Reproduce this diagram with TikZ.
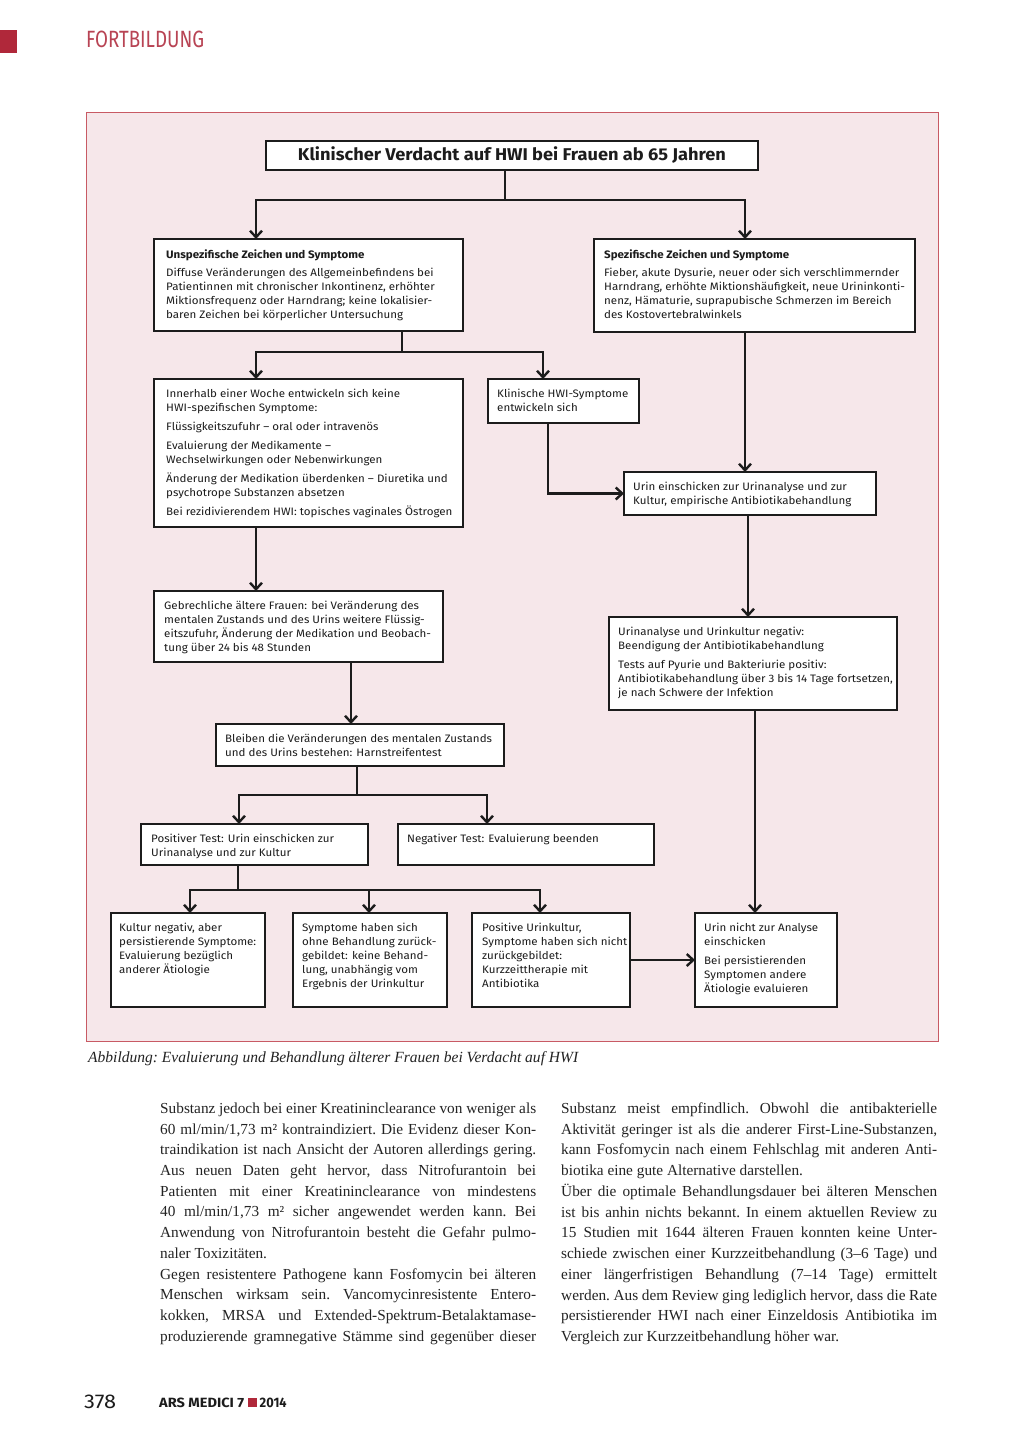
\documentclass[tikz,border=0pt]{standalone}
\usepackage{fontspec}
\setmainfont{Liberation Serif}
\setsansfont{Fira Sans}
\newfontfamily\dinfont[FakeStretch=1.07]{Fira Sans}
\usetikzlibrary{arrows.meta,calc}
\definecolor{panelfill}{RGB}{246,231,234}
\definecolor{panelline}{RGB}{200,90,100}
\definecolor{brandred}{RGB}{176,40,58}
\definecolor{headred}{RGB}{184,68,84}
\definecolor{ink}{RGB}{28,28,28}
\definecolor{bodyink}{RGB}{35,35,35}
\newcommand\fbx[5]{\node[bx,minimum width=#4pt,minimum height=#5pt] (#1) at (#2,#3) {};}
\newcommand\ftx[3]{\node[txt] (#1t) at ([xshift=#2pt,yshift=-10.3pt]#1.north west) {#3};}
\newcommand\bodyset{\frenchspacing\setlength\parindent{0pt}\setlength\parskip{0pt}\tolerance=9999 \emergencystretch=20pt\relax}
\begin{document}
\begin{tikzpicture}[x=1pt,y=-1pt,
  bx/.style={draw=ink,line width=1.2pt,fill=white,anchor=north west,inner sep=0pt,outer sep=0pt},
  txt/.style={anchor=north west,inner sep=0pt,align=left,font=\dinfont\fontsize{10.8}{14}\selectfont,text=ink},
  conn/.style={draw=ink,line width=2.4pt},
  arr/.style={conn,-{Straight Barb[length=6.5pt,width=12pt]}},
  body/.style={anchor=north west,inner sep=0pt,text width=376pt,align=justify,text=bodyink,
    font=\fontsize{15.3}{20.73}\selectfont},
]
\useasboundingbox (0,0) rectangle (1024,1448);
\fill[white] (0,0) rectangle (1024,1448);
% header
\fill[brandred] (0,29.5) rectangle (17,52.5);
\node[anchor=north west,inner sep=0pt,text=headred] (hd) at (86,31) {\resizebox{118pt}{16.5pt}{\sffamily FORTBILDUNG}};
% panel
\draw[fill=panelfill,draw=panelline,line width=0.8pt] (86,112) rectangle (938,1041);
% boxes
\fbx{T}{266}{141}{492}{29}
\node[inner sep=0pt,text=ink] (Tt) at (T.center) {\resizebox{428pt}{!}{\dinfont\bfseries Klinischer Verdacht auf HWI bei Frauen ab 65 Jahren}};
\fbx{U1}{154}{239}{309}{92}
\fbx{S1}{594}{239}{321}{93}
\fbx{L2}{154}{379}{309}{148}
\fbx{K}{488}{379}{151}{44}
\fbx{U}{624}{472}{252}{43}
\fbx{N}{609}{617}{288}{93}
\fbx{G}{154}{591}{289}{71}
\fbx{B}{216}{724}{288}{42}
\fbx{P}{141}{824}{227}{41}
\fbx{Ng}{398}{824}{256}{41}
\fbx{B1}{111}{913}{154}{94}
\fbx{B2}{293}{913}{154}{94}
\fbx{B3}{472}{913}{158}{94}
\fbx{B4}{695}{913}{142}{94}
% texts
\ftx{U1}{12}{\textbf{Unspezifische Zeichen und Symptome}\\[4pt]Diffuse Veränderungen des Allgemeinbefindens bei\\Patientinnen mit chronischer Inkontinenz, erhöhter\\Miktionsfrequenz oder Harndrang; keine lokalisier-\\baren Zeichen bei körperlicher Untersuchung}
\ftx{S1}{10}{\textbf{Spezifische Zeichen und Symptome}\\[4pt]Fieber, akute Dysurie, neuer oder sich verschlimmernder\\Harndrang, erhöhte Miktionshäufigkeit, neue Urininkonti-\\nenz, Hämaturie, suprapubische Schmerzen im Bereich\\des Kostovertebralwinkels}
\ftx{L2}{12}{Innerhalb einer Woche entwickeln sich keine\\HWI-spezifischen Symptome:\\[5pt]Flüssigkeitszufuhr – oral oder intravenös\\[5pt]Evaluierung der Medikamente –\\Wechselwirkungen oder Nebenwirkungen\\[5pt]Änderung der Medikation überdenken – Diuretika und\\psychotrope Substanzen absetzen\\[5pt]Bei rezidivierendem HWI: topisches vaginales Östrogen}
\ftx{K}{9}{Klinische HWI-Symptome\\entwickeln sich}
\ftx{U}{9}{Urin einschicken zur Urinanalyse und zur\\Kultur, empirische Antibiotikabehandlung}
\ftx{N}{9}{Urinanalyse und Urinkultur negativ:\\Beendigung der Antibiotikabehandlung\\[5pt]Tests auf Pyurie und Bakteriurie positiv:\\Antibiotikabehandlung über 3 bis 14 Tage fortsetzen,\\je nach Schwere der Infektion}
\ftx{G}{10}{Gebrechliche ältere Frauen: bei Veränderung des\\mentalen Zustands und des Urins weitere Flüssig-\\eitszufuhr, Änderung der Medikation und Beobach-\\tung über 24 bis 48 Stunden}
\ftx{B}{9}{Bleiben die Veränderungen des mentalen Zustands\\und des Urins bestehen: Harnstreifentest}
\ftx{P}{10}{Positiver Test: Urin einschicken zur\\Urinanalyse und zur Kultur}
\ftx{Ng}{9}{Negativer Test: Evaluierung beenden}
\ftx{B1}{8}{Kultur negativ, aber\\persistierende Symptome:\\Evaluierung bezüglich\\anderer Ätiologie}
\ftx{B2}{9}{Symptome haben sich\\ohne Behandlung zurück-\\gebildet: keine Behand-\\lung, unabhängig vom\\Ergebnis der Urinkultur}
\ftx{B3}{10}{Positive Urinkultur,\\Symptome haben sich nicht\\zurückgebildet:\\Kurzzeittherapie mit\\Antibiotika}
\ftx{B4}{9}{Urin nicht zur Analyse\\einschicken\\[5pt]Bei persistierenden\\Symptomen andere\\Ätiologie evaluieren}
% connectors
\coordinate (j1) at (505,200);
\draw[conn] ([xshift=239pt]T.south west) -- (j1);
\draw[arr] (j1) -| ([xshift=102pt]U1.north west);
\draw[arr] (j1) -| ([xshift=151pt]S1.north west);
\coordinate (j2) at (402,352);
\draw[conn] ([xshift=248pt]U1.south west) -- (j2);
\draw[arr] (j2) -| ([xshift=102pt]L2.north west);
\draw[arr] (j2) -| ([xshift=55pt]K.north west);
\draw[arr] ([xshift=151pt]S1.south west) -- ([xshift=121pt]U.north west);
\draw[arr] ([xshift=60pt]K.south west) |- (U.west);
\draw[arr] ([xshift=124pt]U.south west) -- ([xshift=139pt]N.north west);
\draw[arr] ([xshift=102pt]L2.south west) -- ([xshift=102pt]G.north west);
\draw[arr] ([xshift=197pt]G.south west) -- ([xshift=135pt]B.north west);
\coordinate (j3) at (357,795);
\draw[conn] ([xshift=141pt]B.south west) -- (j3);
\draw[arr] (j3) -| ([xshift=98pt]P.north west);
\draw[arr] (j3) -| ([xshift=89pt]Ng.north west);
\coordinate (j4) at (238,890);
\draw[conn] ([xshift=97pt]P.south west) -- (j4);
\draw[arr] (j4) -| ([xshift=79pt]B1.north west);
\draw[arr] (j4) -| ([xshift=76pt]B2.north west);
\draw[arr] (j4) -| ([xshift=68pt]B3.north west);
\draw[arr] (B3.east) -- (B4.west);
\draw[arr] ([xshift=146pt]N.south west) -- ([xshift=60pt]B4.north west);
% caption
\node[anchor=west,inner sep=0pt,text=bodyink] (cap) at (88,1059) {\resizebox{490pt}{!}{\frenchspacing\itshape Abbildung: Evaluierung und Behandlung älterer Frauen bei Verdacht auf HWI}};
% body columns
\node[body] (c1) at (160,1102.5) {\bodyset Substanz jedoch bei einer Kreatininclearance von weniger als\linebreak 60~ml/min/1,73~m² kontraindiziert. Die Evidenz dieser Kon-\linebreak traindikation ist nach Ansicht der Autoren allerdings gering.\linebreak Aus neuen Daten geht hervor, dass Nitrofurantoin bei\linebreak Patienten mit einer Kreatininclearance von mindestens\linebreak 40~ml/min/1,73~m² sicher angewendet werden kann. Bei\linebreak Anwendung von Nitrofurantoin besteht die Gefahr pulmo-\linebreak naler Toxizitäten.\par
Gegen resistentere Pathogene kann Fosfomycin bei älteren\linebreak Menschen wirksam sein. Vancomycinresistente Entero-\linebreak kokken, MRSA und Extended-Spektrum-Betalaktamase-\linebreak produzierende gramnegative Stämme sind gegenüber dieser\linebreak};
\node[body] (c2) at (561,1102.5) {\bodyset Substanz meist empfindlich. Obwohl die antibakterielle\linebreak Aktivität geringer ist als die anderer First-Line-Substanzen,\linebreak kann Fosfomycin nach einem Fehlschlag mit anderen Anti-\linebreak biotika eine gute Alternative darstellen.\par
Über die optimale Behandlungsdauer bei älteren Menschen\linebreak ist bis anhin nichts bekannt. In einem aktuellen Review zu\linebreak 15 Studien mit 1644 älteren Frauen konnten keine Unter-\linebreak schiede zwischen einer Kurzzeitbehandlung (3–6 Tage) und\linebreak einer längerfristigen Behandlung (7–14 Tage) ermittelt\linebreak werden. Aus dem Review ging lediglich hervor, dass die Rate\linebreak persistierender HWI nach einer Einzeldosis Antibiotika im\linebreak Vergleich zur Kurzzeitbehandlung höher war.};
% footer
\node[anchor=north west,inner sep=0pt,text=ink] (pg) at (84,1394.5) {\resizebox{32pt}{13.5pt}{\sffamily 378}};
\node[anchor=north west,inner sep=0pt,text=ink] (mag) at (159,1397.5) {\resizebox{85pt}{9.5pt}{\sffamily\bfseries ARS MEDICI 7}};
\fill[brandred] (247.5,1397.5) rectangle (256.5,1407);
\node[anchor=north west,inner sep=0pt,text=ink] (yr) at (259.5,1397.5) {\resizebox{27pt}{9.5pt}{\sffamily\bfseries 2014}};
\end{tikzpicture}
\end{document}
